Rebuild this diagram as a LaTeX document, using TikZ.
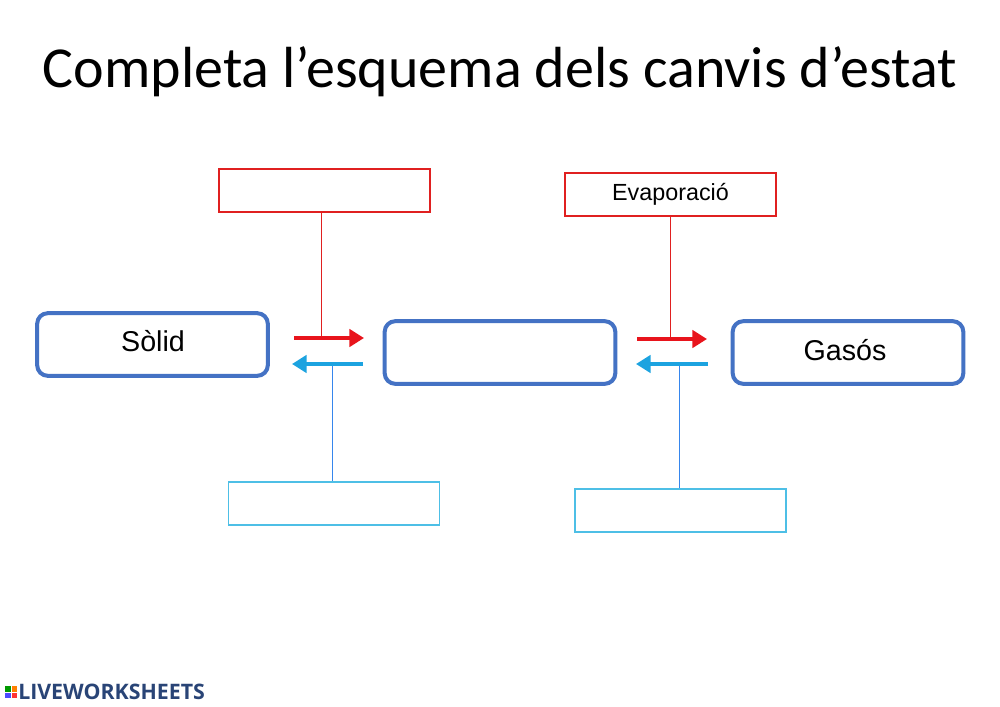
\documentclass[tikz,border=0pt]{standalone}
\usepackage{fontspec}
\setmainfont{Carlito}
\newfontfamily\arialf{Liberation Sans}
\newfontfamily\logof{Open Sans}
\usetikzlibrary{arrows.meta}
\definecolor{bbox}{HTML}{4472C4}
\definecolor{rline}{HTML}{E02020}
\definecolor{cline}{HTML}{4DBFE6}
\definecolor{rarr}{HTML}{E8141C}
\definecolor{barr}{HTML}{1CA3E0}
\tikzset{
 redbox/.style={draw=rline,line width=1.1pt,minimum width=158pt,minimum height=32pt,inner sep=0,font=\arialf\fontsize{17.5}{20}\selectfont},
 cyanbox/.style={draw=cline,line width=1.1pt,minimum width=158pt,minimum height=32pt,inner sep=0},
 statebox/.style={draw=bbox,line width=3pt,rounded corners=8pt,minimum width=173pt,minimum height=47pt,inner sep=0},
 lbl/.style={font=\arialf\fontsize{21.5}{24}\selectfont},
 rar/.style={rarr,line width=3pt,-{Triangle[length=11pt,width=13pt]}},
 bar/.style={barr,line width=3pt,-{Triangle[length=11pt,width=13pt]}},
}
\begin{document}
\begin{tikzpicture}[x=0.75pt,y=-0.75pt]
\useasboundingbox[fill=white] (0,0) rectangle (1000,707);
\node[font=\fontsize{43.5}{50}\selectfont] (title) at (500,72) {Completa l’esquema dels canvis d’estat};
\node[statebox] (s) at (152.5,344.5) {};
\node[lbl] (st) at (153,341) {Sòlid};
\node[statebox] (m) at (500,352.5) {};
\node[statebox] (g) at (848,352.5) {};
\node[lbl] (gt) at (845,350) {Gasós};
\node[redbox] (r1) at (324.5,190.5) {};
\node[redbox] (r2) at (670.5,194.5) {Evaporació};
\node[cyanbox] (c1) at (334,503.5) {};
\node[cyanbox] (c2) at (680.5,510.5) {};
\coordinate (a1s) at (294,338); \coordinate (a1e) at (364,338);
\coordinate (b1s) at (363,364); \coordinate (b1e) at (292,364);
\coordinate (a2s) at (637,339); \coordinate (a2e) at (707,339);
\coordinate (b2s) at (708,364); \coordinate (b2e) at (636,364);
\draw[rline,line width=0.6pt] (r1.south -| 321,0) -- (321,338);
\draw[rline,line width=0.6pt] (r2.south -| 670,0) -- (670,339);
\draw[cline!70!blue,line width=0.6pt] (332,364) -- (c1.north -| 332,0);
\draw[cline!70!blue,line width=0.6pt] (679,364) -- (c2.north -| 679,0);
\draw[rar] (a1s) -- (a1e);
\draw[bar] (b1s) -- (b1e);
\draw[rar] (a2s) -- (a2e);
\draw[bar] (b2s) -- (b2e);
\fill[green!60!black] (5,686) rectangle (10.5,691.5);
\fill[orange] (11.5,686) rectangle (17,691.5);
\fill[blue!70] (5,692.5) rectangle (10.5,698);
\fill[red!80] (11.5,692.5) rectangle (17,698);
\node[anchor=west,inner sep=0,font=\logof\bfseries\fontsize{16}{18}\selectfont,text=bbox!60!black] (logo) at (18,692) {LIVEWORKSHEETS};
\end{tikzpicture}
\end{document}
